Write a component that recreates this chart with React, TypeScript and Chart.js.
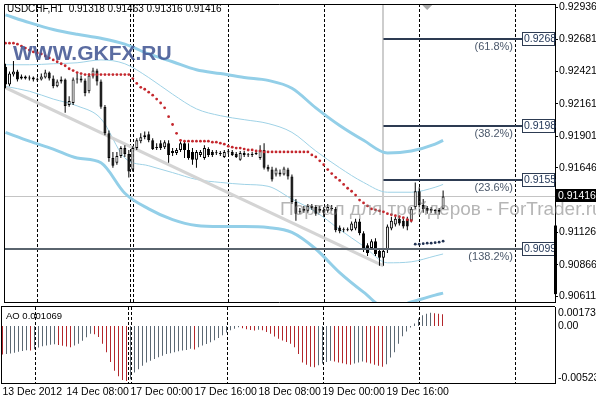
import React, { useEffect, useRef } from 'react';
import { Chart, registerables } from 'chart.js';

Chart.register(...registerables);

const FONT = '"Liberation Sans", Arial, sans-serif';

const symbolName = 'USDCHF,H1';

const opens = [
  0.92460, 0.92318, 0.92397, 0.92421, 0.92365, 0.92381, 0.92365, 0.92373, 0.92358, 0.92358,
  0.92373, 0.92413, 0.92365, 0.92302, 0.92342, 0.92358, 0.92152, 0.92168, 0.92358, 0.92365,
  0.92350, 0.92263, 0.92381, 0.92429, 0.92342, 0.92137, 0.91924, 0.91726, 0.91687, 0.91742,
  0.91805, 0.91758, 0.91632, 0.91805, 0.91861, 0.91892, 0.91916, 0.91868, 0.91805, 0.91845,
  0.91813, 0.91845, 0.91782, 0.91766, 0.91790, 0.91845, 0.91790, 0.91774, 0.91711, 0.91750,
  0.91726, 0.91797, 0.91774, 0.91766, 0.91766, 0.91734, 0.91774, 0.91774, 0.91758, 0.91711,
  0.91766, 0.91750, 0.91750, 0.91758, 0.91726, 0.91790, 0.91655, 0.91632, 0.91592, 0.91608,
  0.91592, 0.91632, 0.91576, 0.91371, 0.91292, 0.91300, 0.91300, 0.91340, 0.91332, 0.91300,
  0.91308, 0.91300, 0.91324, 0.91316, 0.91166, 0.91150, 0.91143, 0.91143, 0.91158, 0.91214,
  0.91119, 0.91024, 0.91001, 0.91056, 0.90977, 0.90922, 0.90985, 0.91158, 0.91190, 0.91237,
  0.91221, 0.91237, 0.91221, 0.91332, 0.91458, 0.91348, 0.91324, 0.91316, 0.91300, 0.91308,
  0.91318,
];
const highs = [
  0.92484, 0.92421, 0.92507, 0.92436, 0.92397, 0.92389, 0.92389, 0.92381, 0.92373, 0.92405,
  0.92436, 0.92421, 0.92389, 0.92358, 0.92381, 0.92365, 0.92223, 0.92373, 0.92405, 0.92389,
  0.92365, 0.92405, 0.92452, 0.92444, 0.92358, 0.92152, 0.91947, 0.91774, 0.91774, 0.91821,
  0.91829, 0.91790, 0.91821, 0.91884, 0.91924, 0.91939, 0.91939, 0.91884, 0.91845, 0.91868,
  0.91868, 0.91868, 0.91805, 0.91805, 0.91861, 0.91861, 0.91845, 0.91805, 0.91790, 0.91790,
  0.91829, 0.91813, 0.91790, 0.91790, 0.91782, 0.91790, 0.91797, 0.91790, 0.91774, 0.91782,
  0.91782, 0.91766, 0.91774, 0.91782, 0.91829, 0.91845, 0.91671, 0.91655, 0.91647, 0.91632,
  0.91655, 0.91647, 0.91592, 0.91395, 0.91324, 0.91340, 0.91356, 0.91356, 0.91348, 0.91340,
  0.91332, 0.91356, 0.91348, 0.91332, 0.91182, 0.91166, 0.91166, 0.91214, 0.91237, 0.91237,
  0.91135, 0.91040, 0.91072, 0.91079, 0.91001, 0.91001, 0.91190, 0.91253, 0.91253, 0.91253,
  0.91237, 0.91253, 0.91332, 0.91529, 0.91490, 0.91395, 0.91340, 0.91332, 0.91316, 0.91324,
  0.91463,
];
const lows = [
  0.92287, 0.92302, 0.92381, 0.92342, 0.92358, 0.92358, 0.92350, 0.92342, 0.92342, 0.92350,
  0.92365, 0.92350, 0.92287, 0.92294, 0.92326, 0.92089, 0.92137, 0.92152, 0.92326, 0.92334,
  0.92223, 0.92247, 0.92365, 0.92310, 0.92121, 0.91908, 0.91695, 0.91647, 0.91671, 0.91726,
  0.91734, 0.91569, 0.91616, 0.91790, 0.91845, 0.91876, 0.91853, 0.91790, 0.91790, 0.91790,
  0.91797, 0.91687, 0.91742, 0.91750, 0.91774, 0.91726, 0.91711, 0.91671, 0.91647, 0.91734,
  0.91711, 0.91734, 0.91734, 0.91750, 0.91742, 0.91726, 0.91758, 0.91742, 0.91726, 0.91703,
  0.91734, 0.91734, 0.91734, 0.91750, 0.91711, 0.91632, 0.91616, 0.91537, 0.91576, 0.91576,
  0.91584, 0.91553, 0.91356, 0.91221, 0.91277, 0.91285, 0.91285, 0.91308, 0.91261, 0.91285,
  0.91253, 0.91285, 0.91300, 0.91127, 0.91119, 0.91127, 0.91135, 0.91135, 0.91143, 0.91103,
  0.90969, 0.90937, 0.90985, 0.90937, 0.90858, 0.90858, 0.90961, 0.91143, 0.91174, 0.91182,
  0.91158, 0.91143, 0.91206, 0.91316, 0.91332, 0.91285, 0.91277, 0.91285, 0.91277, 0.91269,
  0.91316,
];
const closes = [
  0.92318, 0.92405, 0.92421, 0.92358, 0.92381, 0.92365, 0.92373, 0.92358, 0.92356, 0.92381,
  0.92413, 0.92365, 0.92302, 0.92342, 0.92358, 0.92145, 0.92184, 0.92358, 0.92365, 0.92350,
  0.92247, 0.92389, 0.92429, 0.92342, 0.92137, 0.91924, 0.91726, 0.91663, 0.91742, 0.91805,
  0.91758, 0.91616, 0.91805, 0.91868, 0.91892, 0.91908, 0.91868, 0.91797, 0.91813, 0.91805,
  0.91853, 0.91750, 0.91766, 0.91790, 0.91845, 0.91790, 0.91726, 0.91711, 0.91774, 0.91774,
  0.91805, 0.91750, 0.91750, 0.91764, 0.91758, 0.91774, 0.91772, 0.91750, 0.91734, 0.91766,
  0.91750, 0.91748, 0.91758, 0.91766, 0.91790, 0.91647, 0.91632, 0.91553, 0.91632, 0.91592,
  0.91640, 0.91576, 0.91371, 0.91277, 0.91300, 0.91316, 0.91340, 0.91324, 0.91277, 0.91316,
  0.91285, 0.91332, 0.91316, 0.91143, 0.91135, 0.91143, 0.91150, 0.91198, 0.91214, 0.91119,
  0.90985, 0.90961, 0.91056, 0.90953, 0.90922, 0.90977, 0.91174, 0.91221, 0.91237, 0.91198,
  0.91174, 0.91174, 0.91316, 0.91458, 0.91348, 0.91316, 0.91300, 0.91300, 0.91298, 0.91292,
  0.91416,
];

// Parabolic SAR: red dots above price (bars 0..102), dark dots below price (bars 103..110)
const sarAbove = [
  0.92650, 0.92650, 0.92650, 0.92642, 0.92626, 0.92610, 0.92594, 0.92579, 0.92571, 0.92563,
  0.92547, 0.92531, 0.92515, 0.92500, 0.92484, 0.92468, 0.92444, 0.92429, 0.92413, 0.92405,
  0.92397, 0.92397, 0.92397, 0.92397, 0.92397, 0.92397, 0.92397, 0.92397, 0.92397, 0.92397,
  0.92397, 0.92397, 0.92365, 0.92326, 0.92294, 0.92279, 0.92255, 0.92231, 0.92200, 0.92168,
  0.92129, 0.92058, 0.91995, 0.91924, 0.91868, 0.91861, 0.91861, 0.91861, 0.91861, 0.91861,
  0.91861, 0.91861, 0.91853, 0.91853, 0.91845, 0.91837, 0.91821, 0.91813, 0.91805, 0.91805,
  0.91797, 0.91790, 0.91790, 0.91782, 0.91782, 0.91774, 0.91774, 0.91774, 0.91774, 0.91774,
  0.91774, 0.91774, 0.91774, 0.91774, 0.91774, 0.91774, 0.91774, 0.91750, 0.91734, 0.91703,
  0.91671, 0.91632, 0.91600, 0.91569, 0.91545, 0.91513, 0.91482, 0.91458, 0.91427, 0.91387,
  0.91364, 0.91340, 0.91316, 0.91308, 0.91300, 0.91292, 0.91277, 0.91269, 0.91261, 0.91253,
  0.91245, 0.91229, 0.91221,
];
const sarBelowStart = 103;
const sarBelow = [0.91032, 0.91032, 0.91036, 0.91040, 0.91040, 0.91044, 0.91048, 0.91056];

// Band knots (bar index) and values
const bandIdx = [0, 6, 12, 18, 24, 30, 36, 42, 48, 54, 60, 66, 72, 78, 84, 90, 96, 102, 108, 110];
const outerUpper = [0.92878, 0.92815, 0.92760, 0.92721, 0.92689, 0.92642, 0.92563, 0.92500, 0.92436, 0.92405,
  0.92373, 0.92350, 0.92287, 0.92129, 0.91987, 0.91868, 0.91766, 0.91782, 0.91837, 0.91868];
const innerUpper = [0.92476, 0.92476, 0.92484, 0.92492, 0.92515, 0.92484, 0.92373, 0.92239, 0.92121, 0.92066,
  0.92034, 0.92003, 0.91932, 0.91782, 0.91647, 0.91529, 0.91450, 0.91450, 0.91490, 0.91513];
const innerLower = [0.92302, 0.92263, 0.92200, 0.92145, 0.92042, 0.91726, 0.91663, 0.91608, 0.91553, 0.91529,
  0.91513, 0.91498, 0.91395, 0.91292, 0.91150, 0.91016, 0.90882, 0.90890, 0.90937, 0.90953];
const outerLower = [0.91932, 0.91861, 0.91797, 0.91726, 0.91687, 0.91442, 0.91316, 0.91229, 0.91182, 0.91174,
  0.91174, 0.91166, 0.91127, 0.90993, 0.90803, 0.90646, 0.90511, 0.90566, 0.90622, 0.90638];

// Trend line object (bar index, price)
const trendIdx = [-0.7, 95];
const trendPrice = [0.92302, 0.90858];

// Fibonacci object
const fibLevels = [0.9268, 0.9198, 0.9155, 0.9099];
const fibLabels = ['(61.8%)', '(38.2%)', '(23.6%)', '(138.2%)'];
const fibFrom: (number | null)[] = [95, 95, 95, null];
const fibAnchorIdx = 95;
const fibAnchorPrice = 0.90858;

const priceTicks = [0.92936, 0.92681, 0.92421, 0.92161, 0.91901, 0.91646, 0.91126, 0.90866, 0.90611];
const axisMarkTop = 0.91182;
const axisMarkBottom = 0.9063;
const shiftMarkerIdx = 106;

// Awesome Oscillator
const aoValues = [
  -0.00262, -0.00257, -0.00252, -0.00245, -0.00236, -0.00229, -0.00223, -0.00226, -0.00214, -0.00197,
  -0.00186, -0.00178, -0.00172, -0.00168, -0.00175, -0.00182, -0.00189, -0.00195, -0.00180, -0.00164,
  -0.00135, -0.00104, -0.00072, -0.00076, -0.00102, -0.00164, -0.00240, -0.00330, -0.00410, -0.00462,
  -0.00495, -0.00504, -0.00489, -0.00427, -0.00396, -0.00365, -0.00334, -0.00319, -0.00303, -0.00288,
  -0.00272, -0.00257, -0.00251, -0.00241, -0.00232, -0.00226, -0.00220, -0.00210, -0.00215, -0.00195,
  -0.00180, -0.00165, -0.00150, -0.00130, -0.00110, -0.00085, -0.00060, -0.00040, -0.00025, -0.00012,
  -0.00020, -0.00030, -0.00038, -0.00042, -0.00035, -0.00040, -0.00055, -0.00071, -0.00096, -0.00117,
  -0.00133, -0.00148, -0.00164, -0.00195, -0.00257, -0.00334, -0.00356, -0.00374, -0.00378, -0.00360,
  -0.00345, -0.00330, -0.00318, -0.00325, -0.00335, -0.00343, -0.00350, -0.00356, -0.00345, -0.00335,
  -0.00325, -0.00335, -0.00345, -0.00356, -0.00365, -0.00374, -0.00350, -0.00290, -0.00240, -0.00164,
  -0.00095, -0.00050, -0.00015, 0.00022, 0.00068, 0.00099, 0.00113, 0.00121, 0.00117, 0.00112,
  0.001069,
];
const aoTicks = [0.001739, 0, -0.00523];
const aoTickLabels = ['0.001739', '0.00', '-0.00523'];

const timeTickIdx = [0, 16, 32, 48, 64, 80, 96];
const timeTickLabels = ['13 Dec 2012', '14 Dec 08:00', '17 Dec 00:00', '17 Dec 16:00', '18 Dec 08:00', '19 Dec 00:00', '19 Dec 16:00'];
const separatorIdx = [8, 31.25, 32, 56, 80, 104, 128];

const watermarkText = 'Портал для трейдеров - ForTrader.ru';
const brandText = 'WWW.GKFX.RU';

const X_MIN = -0.375;
const X_MAX = 138.125;
const PRICE_MIN = 0.905665;
const PRICE_MAX = 0.92965;
const AO_MIN = -0.00523;
const AO_MAX = 0.001739;

const AO_UP = '#5c6873';
const AO_DOWN = '#b3262b';

export default function App() {
  const mainRef = useRef<HTMLCanvasElement>(null);
  const aoRef = useRef<HTMLCanvasElement>(null);

  useEffect(() => {
    const n = closes.length - 1;
    const idx = closes.map((_, i) => i);
    const lastClose = closes[n];

    const drawSeparators = (chart: any) => {
      const { ctx, chartArea: a, scales } = chart;
      ctx.save();
      ctx.strokeStyle = '#000';
      ctx.lineWidth = 1;
      ctx.setLineDash([3, 2]);
      for (const s of separatorIdx) {
        const px = Math.round(scales.x.getPixelForValue(s)) + 0.5;
        if (px < a.left || px > a.right) continue;
        ctx.beginPath();
        ctx.moveTo(px, a.top);
        ctx.lineTo(px, a.bottom);
        ctx.stroke();
      }
      ctx.restore();
    };

    const mainDecor = {
      id: 'mainDecor',
      beforeDatasetsDraw(chart: any) {
        const { ctx, chartArea: a, scales } = chart;
        const xs = scales.x, ys = scales.y;
        drawSeparators(chart);
        ctx.save();
        ctx.beginPath();
        ctx.rect(a.left, a.top, a.right - a.left, a.bottom - a.top);
        ctx.clip();
        const by = Math.floor(ys.getPixelForValue(lastClose)) + 0.5;
        ctx.strokeStyle = '#c4c4c4';
        ctx.lineWidth = 1;
        ctx.beginPath();
        ctx.moveTo(a.left, by);
        ctx.lineTo(a.right, by);
        ctx.stroke();
        const fx = Math.round(xs.getPixelForValue(fibAnchorIdx));
        ctx.strokeStyle = '#cdcdcd';
        ctx.lineWidth = 2;
        ctx.beginPath();
        ctx.moveTo(fx, a.top);
        ctx.lineTo(fx, ys.getPixelForValue(fibAnchorPrice));
        ctx.stroke();
        ctx.restore();
      },
      afterDatasetsDraw(chart: any) {
        const { ctx, chartArea: a, scales } = chart;
        const xs = scales.x, ys = scales.y;
        const boxW = 33;
        ctx.save();
        fibLevels.forEach((lv, k) => {
          const py = Math.round(ys.getPixelForValue(lv));
          const from = fibFrom[k];
          const x0 = from === null ? a.left : xs.getPixelForValue(from);
          const x1 = a.right - boxW;
          ctx.strokeStyle = k === 3 ? '#5a646e' : '#2d3b52';
          ctx.lineWidth = 2;
          ctx.beginPath();
          ctx.moveTo(x0, py);
          ctx.lineTo(x1, py);
          ctx.stroke();
          ctx.fillStyle = '#fff';
          ctx.fillRect(x1, py - 6, boxW, 12);
          ctx.lineWidth = 1;
          ctx.strokeStyle = '#2d3b52';
          ctx.strokeRect(x1 + 0.5, py - 6.5, boxW - 1, 13);
          ctx.fillStyle = '#25395a';
          ctx.font = `10.5px ${FONT}`;
          ctx.textBaseline = 'middle';
          ctx.textAlign = 'left';
          ctx.fillText(lv.toFixed(4), x1 + 2, py + 0.5);
          ctx.fillStyle = '#4b586b';
          ctx.font = `11px ${FONT}`;
          ctx.textAlign = 'right';
          ctx.fillText(fibLabels[k], x1 - 9, py + 8);
        });
        ctx.restore();
      },
      afterDraw(chart: any) {
        const { ctx, chartArea: a, scales } = chart;
        const xs = scales.x, ys = scales.y;
        ctx.save();
        // frame
        ctx.strokeStyle = '#000';
        ctx.lineWidth = 1;
        ctx.beginPath();
        ctx.moveTo(a.left + 0.5, a.bottom + 1);
        ctx.lineTo(a.left + 0.5, a.top + 0.5);
        ctx.lineTo(a.right, a.top + 0.5);
        ctx.moveTo(a.left, a.bottom + 0.5);
        ctx.lineTo(a.right, a.bottom + 0.5);
        ctx.stroke();
        // chart shift marker
        const tx = xs.getPixelForValue(shiftMarkerIdx);
        ctx.fillStyle = '#a9a9a9';
        ctx.beginPath();
        ctx.moveTo(tx - 5, a.top + 1);
        ctx.lineTo(tx + 5, a.top + 1);
        ctx.lineTo(tx, a.top + 6);
        ctx.closePath();
        ctx.fill();
        // header
        const f5 = (v: number) => v.toFixed(5);
        ctx.fillStyle = '#000';
        ctx.font = `10px ${FONT}`;
        ctx.textAlign = 'left';
        ctx.textBaseline = 'middle';
        ctx.fillText(`${symbolName}  ${f5(opens[n])} ${f5(highs[n])} ${f5(lows[n])} ${f5(closes[n])}`, 7, 9);
        // brand
        ctx.font = `bold 21px ${FONT}`;
        ctx.textBaseline = 'alphabetic';
        ctx.fillStyle = 'rgba(68,88,148,0.88)';
        ctx.fillText(brandText, 13, 60);
        // axis marker
        const mt = ys.getPixelForValue(axisMarkTop);
        const mb = ys.getPixelForValue(axisMarkBottom);
        ctx.fillStyle = '#000';
        ctx.fillRect(a.right - 1, mt, 3, mb - mt);
        // current price box
        const by = ys.getPixelForValue(lastClose);
        ctx.fillStyle = '#000';
        ctx.fillRect(a.right + 1, Math.round(by) - 7, 41, 13);
        ctx.fillStyle = '#fff';
        ctx.font = `10.5px ${FONT}`;
        ctx.textBaseline = 'middle';
        ctx.fillText(lastClose.toFixed(5), a.right + 3, by);
        // watermark
        ctx.font = `19px ${FONT}`;
        ctx.textBaseline = 'alphabetic';
        ctx.fillStyle = 'rgba(120,120,120,0.55)';
        ctx.fillText(watermarkText, 280, 215);
        ctx.restore();
      },
    };

    const aoDecor = {
      id: 'aoDecor',
      beforeDatasetsDraw(chart: any) {
        drawSeparators(chart);
      },
      afterDraw(chart: any) {
        const { ctx, chartArea: a, scales } = chart;
        const ys = scales.y;
        ctx.save();
        ctx.strokeStyle = '#000';
        ctx.lineWidth = 1;
        ctx.beginPath();
        ctx.moveTo(a.left + 0.5, a.bottom + 0.5);
        ctx.lineTo(a.left + 0.5, a.top - 0.5);
        ctx.moveTo(a.left, a.top - 0.5);
        ctx.lineTo(a.right, a.top - 0.5);
        ctx.moveTo(a.left, a.bottom + 0.5);
        ctx.lineTo(a.right + 1, a.bottom + 0.5);
        ctx.stroke();
        ctx.fillStyle = '#000';
        ctx.font = `10.5px ${FONT}`;
        ctx.textAlign = 'left';
        ctx.textBaseline = 'middle';
        aoTicks.forEach((v, k) => {
          const p = Math.min(Math.max(ys.getPixelForValue(v), a.top + 6), a.bottom - 5);
          ctx.fillText(aoTickLabels[k], a.right + 3, p);
        });
        ctx.font = `9.5px ${FONT}`;
        ctx.fillText(`AO ${aoValues[aoValues.length - 1].toFixed(6)}`, 6, a.top + 9);
        ctx.restore();
      },
    };

    const bandStyle = (data: number[], width: number, color: string, order: number) => ({
      type: 'line' as const,
      data: bandIdx.map((b, k) => ({ x: b, y: data[k] })),
      borderColor: color,
      borderWidth: width,
      pointRadius: 0,
      cubicInterpolationMode: 'monotone' as const,
      order,
    });

    const main = new Chart(mainRef.current as HTMLCanvasElement, {
      type: 'bar',
      data: {
        datasets: [
          bandStyle(outerUpper, 3, '#93cfe8', 20),
          bandStyle(outerLower, 3, '#93cfe8', 20),
          bandStyle(innerUpper, 1, '#9fd2e6', 20),
          bandStyle(innerLower, 1, '#9fd2e6', 20),
          {
            type: 'line',
            data: trendIdx.map((t, k) => ({ x: t, y: trendPrice[k] })),
            borderColor: '#d4d4d4',
            borderWidth: 3,
            pointRadius: 0,
            order: 19,
          },
          {
            type: 'bar',
            data: idx.map((i) => ({ x: i, y: [lows[i], highs[i]] })),
            backgroundColor: '#000',
            borderWidth: 0,
            barThickness: 1,
            grouped: false,
            inflateAmount: 0,
            order: 10,
          },
          {
            type: 'bar',
            data: idx.map((i) => ({ x: i, y: [opens[i], closes[i]] })),
            backgroundColor: idx.map((i) => (closes[i] > opens[i] ? '#ffffff' : '#000000')),
            borderColor: '#000',
            borderWidth: 1,
            borderSkipped: false,
            barThickness: 3,
            minBarLength: 1,
            grouped: false,
            inflateAmount: 0,
            order: 9,
          },
          {
            type: 'line',
            data: sarAbove.map((v, i) => ({ x: i, y: v })),
            showLine: false,
            pointRadius: 1.4,
            pointBackgroundColor: '#c4272d',
            pointBorderWidth: 0,
            order: 2,
          },
          {
            type: 'line',
            data: sarBelow.map((v, k) => ({ x: sarBelowStart + k, y: v })),
            showLine: false,
            pointRadius: 1.4,
            pointBackgroundColor: '#1f3050',
            pointBorderWidth: 0,
            order: 2,
          },
        ] as any,
      },
      options: {
        responsive: false,
        animation: false,
        devicePixelRatio: 1,
        events: [],
        layout: { padding: { left: 1, top: 1, right: 0, bottom: 1 } },
        plugins: { legend: { display: false }, tooltip: { enabled: false } },
        scales: {
          x: { type: 'linear', display: false, min: X_MIN, max: X_MAX, offset: false },
          y: {
            type: 'linear',
            position: 'right',
            min: PRICE_MIN,
            max: PRICE_MAX,
            afterFit: (s: any) => { s.width = 41; s.paddingTop = 0; s.paddingBottom = 0; },
            afterBuildTicks: (s: any) => { s.ticks = priceTicks.map((v) => ({ value: v })); },
            ticks: {
              autoSkip: false,
              padding: 1,
              color: '#000',
              font: { family: FONT, size: 10.5 },
              callback: (v: any) => Number(v).toFixed(5),
            },
            grid: { drawOnChartArea: false, drawTicks: true, tickLength: 3, color: '#000' },
            border: { display: true, color: '#000' },
          },
        },
      } as any,
      plugins: [mainDecor],
    });

    const ao = new Chart(aoRef.current as HTMLCanvasElement, {
      type: 'bar',
      data: {
        datasets: [
          {
            data: idx.map((i) => ({ x: i, y: aoValues[i] })),
            backgroundColor: aoValues.map((v, i) => (i > 0 && v > aoValues[i - 1] ? AO_UP : AO_DOWN)),
            borderWidth: 0,
            barThickness: 1,
            grouped: false,
            inflateAmount: 0,
          },
        ] as any,
      },
      options: {
        responsive: false,
        animation: false,
        devicePixelRatio: 1,
        events: [],
        layout: { padding: { left: 1, top: 1, right: 0, bottom: 0 } },
        plugins: { legend: { display: false }, tooltip: { enabled: false } },
        scales: {
          x: {
            type: 'linear',
            position: 'bottom',
            min: X_MIN,
            max: X_MAX,
            offset: false,
            afterFit: (s: any) => { s.height = 17; s.paddingLeft = 0; s.paddingRight = 0; },
            afterBuildTicks: (s: any) => { s.ticks = timeTickIdx.map((v) => ({ value: v })); },
            ticks: {
              autoSkip: false,
              maxRotation: 0,
              minRotation: 0,
              align: 'start',
              padding: 3,
              color: '#000',
              font: { family: FONT, size: 10.5 },
              callback: (v: any) => {
                const k = timeTickIdx.indexOf(Number(v));
                return k >= 0 ? timeTickLabels[k] : '';
              },
            },
            grid: { drawOnChartArea: false, drawTicks: false },
            border: { display: false },
          },
          y: {
            type: 'linear',
            position: 'right',
            min: AO_MIN,
            max: AO_MAX,
            afterFit: (s: any) => { s.width = 41; s.paddingTop = 0; s.paddingBottom = 0; },
            ticks: { display: false },
            grid: { display: false, drawTicks: false },
            border: { display: true, color: '#000' },
          },
        },
      } as any,
      plugins: [aoDecor],
    });

    return () => {
      main.destroy();
      ao.destroy();
    };
  }, []);

  return (
    <div style={{ position: 'fixed', left: 0, top: 0, width: 596, height: 400, background: '#fff', overflow: 'hidden' }}>
      <canvas ref={mainRef} width={596} height={306} style={{ position: 'absolute', left: 0, top: 0, width: 596, height: 306 }} />
      <canvas ref={aoRef} width={596} height={94} style={{ position: 'absolute', left: 0, top: 306, width: 596, height: 94 }} />
    </div>
  );
}
